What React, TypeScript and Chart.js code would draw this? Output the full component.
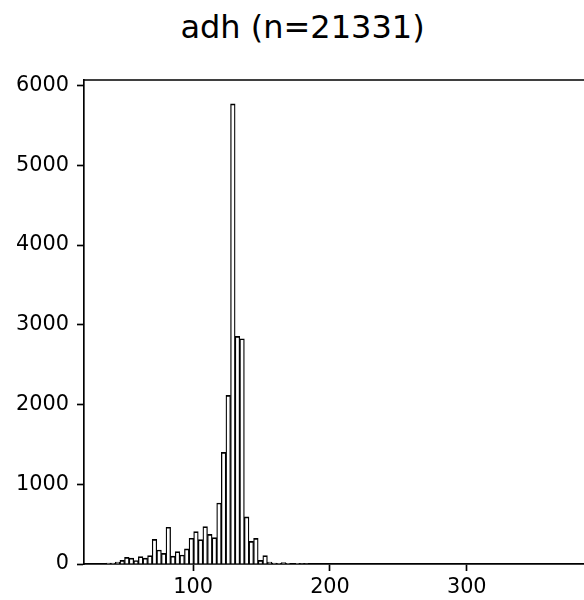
import React, { useEffect, useRef } from "react";
import { Chart, registerables } from "chart.js";

Chart.register(...registerables);

const titleText = "adh (n=21331)";

// Histogram definition: 100 equal bins
const binStart = 36.3;
const binWidth = 3.37;

const binCounts = [
  10, 12, 25, 45, 84, 75, 42, 92, 75, 105,
  310, 176, 134, 461, 100, 155, 113, 189, 323, 407,
  305, 468, 372, 332, 765, 1400, 2115, 5770, 2855, 2825,
  590, 283, 322, 45, 105, 25, 12, 8, 17, 8,
  5, 8, 3, 2, 0, 0, 0, 0, 0, 0,
  0, 0, 0, 0, 0, 0, 0, 0, 0, 0,
  0, 0, 0, 0, 0, 0, 0, 0, 0, 0,
  0, 0, 0, 0, 0, 0, 0, 0, 0, 0,
  0, 0, 0, 0, 0, 0, 0, 0, 0, 0,
  0, 0, 0, 0, 0, 0, 0, 0, 0, 6,
];

const xTicks = [100, 200, 300];
const yTicks = [0, 1000, 2000, 3000, 4000, 5000, 6000];

const xMin = 20.15;
const xMax = 390.85;
const yMax = 6069;

const FONT = "'DejaVu Sans', sans-serif";

const frameTopRight = {
  id: "frameTopRight",
  afterDraw(chart: any) {
    const { ctx, chartArea } = chart;
    ctx.save();
    ctx.strokeStyle = "#000";
    ctx.lineWidth = 1.67;
    ctx.lineCap = "square";
    ctx.beginPath();
    ctx.moveTo(chartArea.left, chartArea.top);
    ctx.lineTo(chartArea.right, chartArea.top);
    ctx.lineTo(chartArea.right, chartArea.bottom);
    ctx.stroke();
    ctx.restore();
  },
};

export default function App() {
  const ref = useRef<HTMLCanvasElement | null>(null);

  useEffect(() => {
    if (!ref.current) return;
    const data = binCounts.map((c, i) => ({
      x: binStart + binWidth * (i + 0.5),
      y: c,
    }));
    const chart = new Chart(ref.current, {
      type: "bar",
      data: {
        datasets: [
          {
            data,
            backgroundColor: "#ffffff",
            borderColor: "#000000",
            borderWidth: { left: 1.3, right: 1.3, top: 1.7, bottom: 0 },
            barPercentage: 1,
            categoryPercentage: 1,
          } as any,
        ],
      },
      options: {
        animation: false,
        responsive: false,
        devicePixelRatio: 1,
        layout: { padding: { left: 0, top: 80, right: 9, bottom: 0 } },
        plugins: {
          legend: { display: false },
          tooltip: { enabled: false },
          title: { display: false },
        },
        scales: {
          x: {
            type: "linear",
            min: xMin,
            max: xMax,
            offset: false,
            afterFit: (s: any) => {
              s.height = 36;
            },
            afterBuildTicks: (s: any) => {
              s.ticks = xTicks.map((v) => ({ value: v }));
            },
            grid: {
              offset: false,
              drawOnChartArea: false,
              drawTicks: true,
              tickLength: 7,
              tickWidth: 1.67,
              tickColor: "#000",
            },
            border: { display: true, color: "#000", width: 1.67 },
            ticks: {
              color: "#000",
              font: { family: FONT, size: 20.8 },
              padding: 4,
              maxRotation: 0,
              autoSkip: false,
              callback: (v: any) => String(v),
            },
          },
          y: {
            type: "linear",
            min: 0,
            max: yMax,
            afterFit: (s: any) => {
              s.width = 84;
            },
            afterBuildTicks: (s: any) => {
              s.ticks = yTicks.map((v) => ({ value: v }));
            },
            grid: {
              offset: false,
              drawOnChartArea: false,
              drawTicks: true,
              tickLength: 7,
              tickWidth: 1.67,
              tickColor: "#000",
            },
            border: { display: true, color: "#000", width: 1.67 },
            ticks: {
              color: "#000",
              font: { family: FONT, size: 20.8 },
              padding: 8,
              autoSkip: false,
              callback: (v: any) => String(v),
            },
          },
        },
      },
      plugins: [frameTopRight],
    });
    return () => chart.destroy();
  }, []);

  return (
    <div
      style={{
        position: "absolute",
        left: 0,
        top: 0,
        width: 584,
        height: 600,
        overflow: "hidden",
        background: "#fff",
      }}
    >
      <div
        style={{
          position: "absolute",
          left: 0,
          top: 8,
          width: 605,
          textAlign: "center",
          fontFamily: FONT,
          fontSize: 32,
          lineHeight: "38px",
          color: "#000",
        }}
      >
        {titleText}
      </div>
      <canvas
        ref={ref}
        width={600}
        height={600}
        style={{ position: "absolute", left: 0, top: 0, width: 600, height: 600 }}
      />
    </div>
  );
}
